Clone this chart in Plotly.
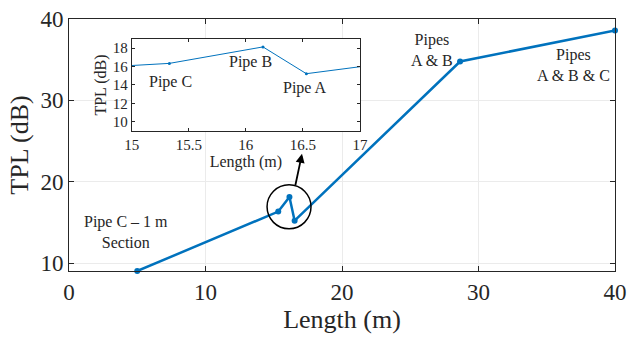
import plotly.graph_objects as go

# Data
length_m = [5.0, 15.33, 16.15, 16.53, 28.65, 40.0]
tpl_db = [9.05, 16.35, 18.14, 15.23, 34.78, 38.6]

main_xticks = [0, 10, 20, 30, 40]
main_yticks = [10, 20, 30, 40]
inset_xticks = [15, 15.5, 16, 16.5, 17]
inset_yticks = [10, 12, 14, 16, 18]

main_labels = [
    ("Pipe C – 1 m<br>Section", 4.18, 13.9),
    ("Pipes<br>A & B", 26.6, 36.16),
    ("Pipes<br>A & B & C", 36.95, 34.4),
]
inset_labels = [
    ("Pipe C", 15.34, 14.37),
    ("Pipe B", 16.04, 16.46),
    ("Pipe A", 16.52, 13.66),
]

BLUE = "#0072BD"
TXT = "#262626"
FONT = "Liberation Serif, DejaVu Serif, serif"

fig = go.Figure()
fig.add_trace(go.Scatter(x=length_m, y=tpl_db, mode="lines+markers",
                         line=dict(color=BLUE, width=2.5),
                         marker=dict(color=BLUE, size=6),
                         cliponaxis=False, showlegend=False,
                         xaxis="x", yaxis="y"))
fig.add_trace(go.Scatter(x=length_m, y=tpl_db, mode="lines+markers",
                         line=dict(color=BLUE, width=1),
                         marker=dict(color=BLUE, size=3),
                         showlegend=False,
                         xaxis="x2", yaxis="y2"))

axis_common = dict(showline=True, linecolor=TXT, linewidth=1, mirror="allticks",
                   ticks="inside", ticklen=5, tickcolor=TXT, zeroline=False,
                   automargin=False,
                   tickfont=dict(family=FONT, size=23, color=TXT))

fig.update_layout(
    width=628, height=337,
    margin=dict(l=69, r=13, t=19, b=66, autoexpand=False),
    paper_bgcolor="white", plot_bgcolor="white",
    font=dict(family=FONT, color=TXT),
    xaxis=dict(range=[0, 40], tickvals=main_xticks, showgrid=True, gridcolor="#ebebeb",
               title=dict(text="Length (m)", font=dict(family=FONT, size=26, color=TXT), standoff=2),
               domain=[0, 1], **axis_common),
    yaxis=dict(range=[9.05, 40], tickvals=main_yticks, showgrid=True, gridcolor="#ebebeb",
               title=dict(text="TPL (dB)", font=dict(family=FONT, size=26, color=TXT), standoff=4),
               domain=[0, 1], **axis_common),
    xaxis2=dict(range=[15, 17], tickvals=inset_xticks, ticktext=["15", "15.5", "16", "16.5", "17"],
                domain=[0.1148, 0.533], anchor="y2", showgrid=False, automargin=False,
                title=dict(text="Length (m)", font=dict(family=FONT, size=16, color=TXT), standoff=0),
                showline=True, linecolor=TXT, linewidth=1, mirror="allticks",
                ticks="inside", ticklen=3, tickcolor=TXT, zeroline=False,
                tickfont=dict(family=FONT, size=15, color=TXT)),
    yaxis2=dict(range=[9, 19], tickvals=inset_yticks, domain=[0.5556, 0.9206], anchor="x2",
                showgrid=False, automargin=False,
                title=dict(text="TPL (dB)", font=dict(family=FONT, size=16, color=TXT), standoff=2),
                showline=True, linecolor=TXT, linewidth=1, mirror="allticks",
                ticks="inside", ticklen=3, tickcolor=TXT, zeroline=False,
                tickfont=dict(family=FONT, size=15, color=TXT)),
)

# white background of the inset plot area
fig.add_shape(type="rect", xref="x2 domain", yref="y2 domain", x0=0, x1=1, y0=0, y1=1,
              fillcolor="white", line=dict(width=0), layer="below")

# circle highlighting the zoomed region
fig.add_shape(type="circle", xref="x", yref="y", x0=16.12 - 1.61, x1=16.12 + 1.61,
              y0=16.93 - 2.7, y1=16.93 + 2.7, line=dict(color="black", width=1.5))

# arrow
fig.add_annotation(x=17.07, y=23.44, ax=16.56, ay=19.39, xref="x", yref="y",
                   axref="x", ayref="y", text="", showarrow=True,
                   arrowhead=2, arrowsize=1, arrowwidth=1.8, arrowcolor="black")

for t, x, y in main_labels:
    fig.add_annotation(x=x, y=y, xref="x", yref="y", text=t, showarrow=False,
                       font=dict(family=FONT, size=16, color=TXT))
for t, x, y in inset_labels:
    fig.add_annotation(x=x, y=y, xref="x2", yref="y2", text=t, showarrow=False,
                       font=dict(family=FONT, size=16, color=TXT))

fig.write_html("out.html")
